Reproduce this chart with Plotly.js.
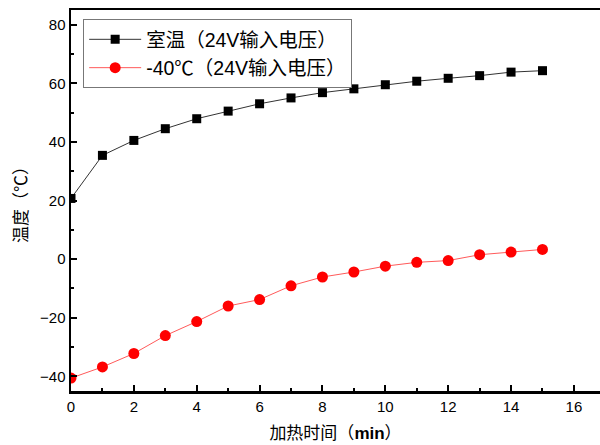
<!DOCTYPE html>
<html>
<head>
<meta charset="utf-8">
<script src="https://cdn.plot.ly/plotly-3.0.1.min.js"></script>
<style>html,body{margin:0;padding:0;background:#fff;}#chart{width:600px;height:445px;}</style>
</head>
<body>
<div id="chart"></div>
<script>
const timeMin = [0,1,2,3,4,5,6,7,8,9,10,11,12,13,14,15];
const roomTemp = [20.7,35.4,40.5,44.5,47.9,50.5,53.0,55.0,56.8,58.1,59.5,60.7,61.7,62.6,63.8,64.3];
const coldTemp = [-40.6,-36.8,-32.2,-26.1,-21.3,-16.0,-13.8,-9.1,-6.1,-4.4,-2.4,-1.1,-0.5,1.5,2.4,3.3];
const seriesNames = ['室温（24V输入电压）','-40℃（24V输入电压）'];
const xTitle = '加热时间（<b>min</b>）';
const yTitle = '温度（℃）';

const FONT = 'Liberation Sans, Arial, Noto Sans CJK SC, sans-serif';

const traces = [
  {x: timeMin, y: roomTemp, name: seriesNames[0], mode: 'lines+markers',
   line: {color: '#333333', width: 1},
   marker: {symbol: 'square', size: 9, color: '#000000'}},
  {x: timeMin, y: coldTemp, name: seriesNames[1], mode: 'lines+markers',
   line: {color: '#ff5a5a', width: 1},
   marker: {symbol: 'circle', size: 11, color: '#ff0000'}}
];

const layout = {
  width: 600, height: 445,
  margin: {l: 71, r: 0, t: 10, b: 54},
  paper_bgcolor: '#ffffff', plot_bgcolor: '#ffffff',
  font: {family: FONT, size: 14, color: '#000'},
  showlegend: true,
  legend: {x: 0.023, y: 0.976, xanchor: 'left', yanchor: 'top',
    bordercolor: '#777777', borderwidth: 1, bgcolor: '#ffffff',
    itemwidth: 52,
    font: {family: FONT, size: 19.5, color: '#000'}, tracegroupgap: 0},
  xaxis: {
    range: [0, 16.83], dtick: 2, tick0: 0,
    showline: true, linecolor: '#000', linewidth: 2.5, mirror: true,
    ticks: 'inside', ticklen: 6, tickwidth: 2, tickcolor: '#000',
    minor: {ticks: 'inside', ticklen: 3, tickwidth: 2, dtick: 1, tickcolor: '#000', showgrid: false},
    showgrid: false, zeroline: false,
    tickfont: {family: FONT, size: 15},
    title: {text: xTitle, font: {family: FONT, size: 17}, standoff: 14}
  },
  yaxis: {
    range: [-45, 85], dtick: 20, tick0: 0,
    showline: true, linecolor: '#000', linewidth: 2.5, mirror: false,
    ticks: 'inside', ticklen: 6, tickwidth: 2, tickcolor: '#000',
    minor: {ticks: 'inside', ticklen: 3, tickwidth: 2, dtick: 10, tickcolor: '#000', showgrid: false},
    showgrid: false, zeroline: false,
    tickfont: {family: FONT, size: 15},
    title: {text: yTitle, font: {family: FONT, size: 17}, standoff: 8}
  }
};

Plotly.newPlot('chart', traces, layout, {displayModeBar: false, staticPlot: true});
</script>
</body>
</html>
